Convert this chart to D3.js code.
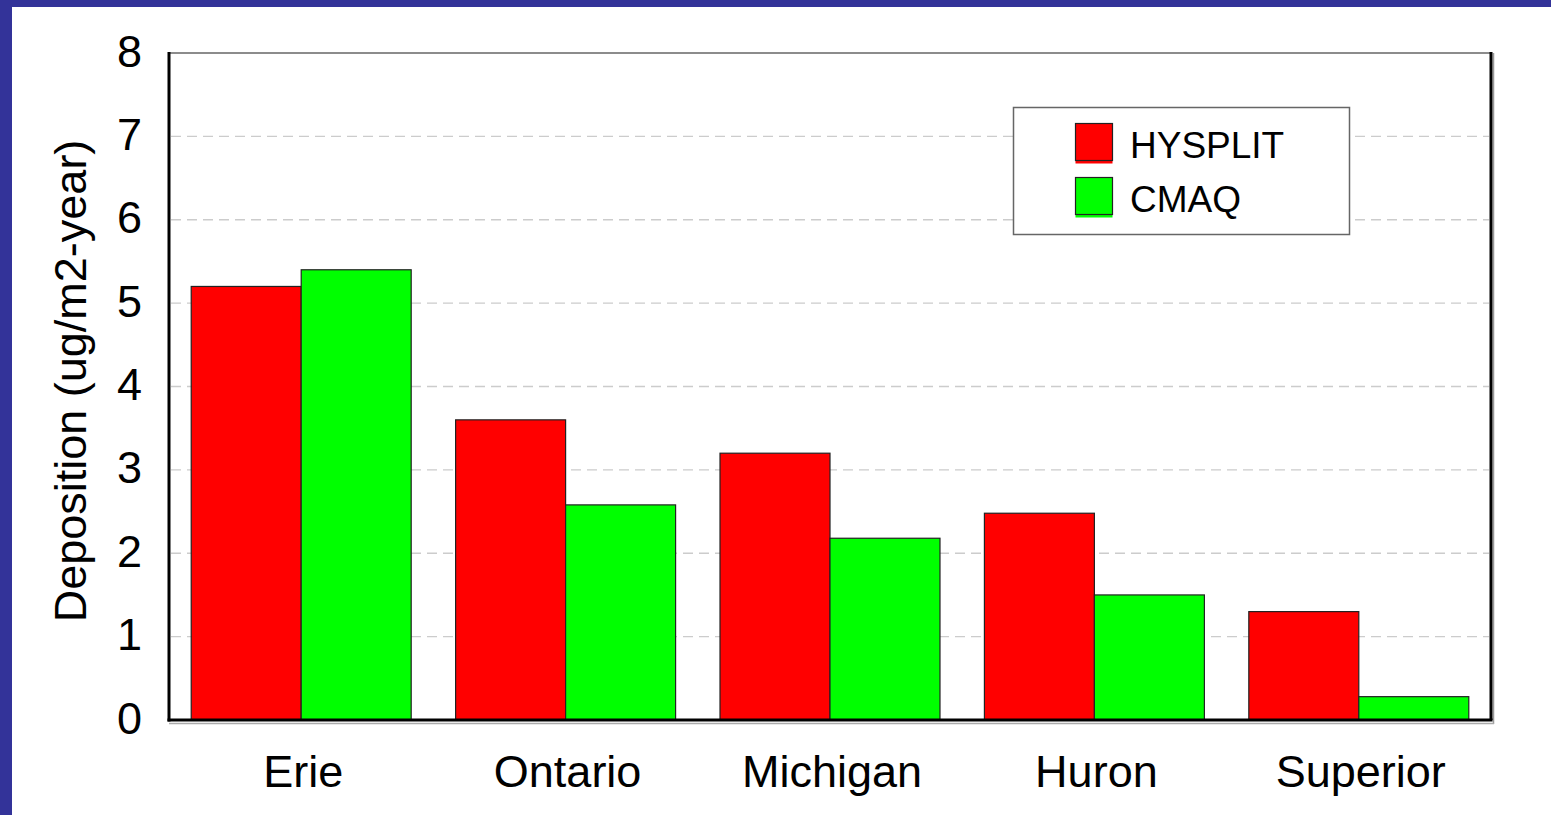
<!DOCTYPE html>
<html>
<head>
<meta charset="utf-8">
<script src="https://cdn.jsdelivr.net/npm/d3@7"></script>
<style>
  html, body { margin: 0; padding: 0; background: #ffffff; }
  svg { display: block; }
  text { font-family: "Liberation Sans", Arial, sans-serif; fill: #000; }
</style>
</head>
<body>
<svg id="chart" width="1551" height="815"></svg>
<script>
// ---- data ----
const categories = ["Erie", "Ontario", "Michigan", "Huron", "Superior"];
const seriesNames = ["HYSPLIT", "CMAQ"];
const hysplitValues = [5.2, 3.6, 3.2, 2.48, 1.3];
const cmaqValues = [5.4, 2.58, 2.18, 1.5, 0.28];
const yTicks = [0, 1, 2, 3, 4, 5, 6, 7, 8];
const yTitle = "Deposition (ug/m2-year)";
const colors = ["#ff0000", "#00ff00"];

const W = 1551, H = 815;
const svg = d3.select("#chart");

// blue slide frame
svg.append("rect").attr("x", 0).attr("y", 0).attr("width", W).attr("height", H).attr("fill", "#333399");
svg.append("rect").attr("x", 12).attr("y", 7).attr("width", W - 12).attr("height", H - 7).attr("fill", "#ffffff");

const plot = { left: 169, right: 1491, top: 53, bottom: 720 };

const y = d3.scaleLinear().domain([0, 8]).range([plot.bottom, plot.top]);
const pad = 0.168;
const x0 = d3.scaleBand().domain(categories).range([plot.left, plot.right])
  .paddingInner(pad).paddingOuter(pad / 2);
const x1 = d3.scaleBand().domain(seriesNames).range([0, x0.bandwidth()]).padding(0);

const rows = categories.map((c, i) => ({ cat: c, vals: [hysplitValues[i], cmaqValues[i]] }));

// gridlines
svg.append("g").selectAll("line").data(yTicks.filter(t => t > 0 && t < 8)).join("line")
  .attr("x1", plot.left + 2).attr("x2", plot.right - 2)
  .attr("y1", d => y(d)).attr("y2", d => y(d))
  .attr("stroke", "#cccccc").attr("stroke-width", 1.3).attr("stroke-dasharray", "10,6");

// top frame line
svg.append("line").attr("x1", plot.left).attr("x2", plot.right)
  .attr("y1", plot.top).attr("y2", plot.top).attr("stroke", "#666666").attr("stroke-width", 1.5);
// right frame line + shadow
svg.append("line").attr("x1", plot.right + 2.5).attr("x2", plot.right + 2.5)
  .attr("y1", plot.top).attr("y2", plot.bottom + 4).attr("stroke", "#999999").attr("stroke-width", 1.5);
svg.append("line").attr("x1", plot.right).attr("x2", plot.right)
  .attr("y1", plot.top - 1).attr("y2", plot.bottom).attr("stroke", "#000").attr("stroke-width", 3);

// bars
const groups = svg.append("g").selectAll("g").data(rows).join("g")
  .attr("transform", d => `translate(${x0(d.cat)},0)`);
groups.selectAll("rect").data(d => d.vals.map((v, j) => ({ s: seriesNames[j], v, j }))).join("rect")
  .attr("x", d => x1(d.s))
  .attr("width", x1.bandwidth())
  .attr("y", d => y(d.v))
  .attr("height", d => y(0) - y(d.v))
  .attr("fill", d => colors[d.j])
  .attr("stroke", "#222").attr("stroke-width", 1.2);

// bottom axis line + shadow
svg.append("line").attr("x1", plot.left).attr("x2", plot.right + 3)
  .attr("y1", plot.bottom + 3.5).attr("y2", plot.bottom + 3.5).attr("stroke", "#aaaaaa").attr("stroke-width", 1.5);
svg.append("line").attr("x1", plot.left - 1.5).attr("x2", plot.right + 1.5)
  .attr("y1", plot.bottom).attr("y2", plot.bottom).attr("stroke", "#000").attr("stroke-width", 3);
// left axis line
svg.append("line").attr("x1", plot.left).attr("x2", plot.left)
  .attr("y1", plot.top - 1).attr("y2", plot.bottom + 1.5).attr("stroke", "#000").attr("stroke-width", 3);

// y axis labels
const yAxis = d3.axisLeft(y).tickValues(yTicks).tickSize(0).tickPadding(0).tickFormat(d3.format("d"));
const ya = svg.append("g").attr("transform", `translate(142,0)`).call(yAxis);
ya.select(".domain").remove();
ya.selectAll("text").attr("font-size", 45).attr("dy", 13)
  .attr("font-family", "Liberation Sans, Arial, sans-serif").attr("fill", "#000");

// x axis labels
const xAxis = d3.axisBottom(x0).tickSize(0).tickPadding(0);
const xa = svg.append("g").attr("transform", `translate(2,787)`).call(xAxis);
xa.select(".domain").remove();
xa.selectAll("text").attr("font-size", 45).attr("dy", 0)
  .attr("font-family", "Liberation Sans, Arial, sans-serif").attr("fill", "#000");

// y title
svg.append("text").attr("transform", `translate(86,381) rotate(-90)`)
  .attr("text-anchor", "middle").attr("font-size", 45).text(yTitle);

// legend
const lg = svg.append("g");
lg.append("rect").attr("x", 1013.5).attr("y", 107.5).attr("width", 336).attr("height", 127)
  .attr("fill", "#fff").attr("stroke", "#666666").attr("stroke-width", 1.5);
const legendRowY = [123.5, 177.5];
seriesNames.forEach((s, i) => {
  lg.append("rect").attr("x", 1075.5).attr("y", legendRowY[i] + 3).attr("width", 37).attr("height", 37)
    .attr("fill", colors[i]);
  lg.append("rect").attr("x", 1075.5).attr("y", legendRowY[i]).attr("width", 37).attr("height", 37)
    .attr("fill", colors[i]).attr("stroke", "#222").attr("stroke-width", 1.2);
  lg.append("text").attr("x", 1130).attr("y", legendRowY[i] + 34).attr("font-size", 37).text(s);
});
</script>
</body>
</html>
